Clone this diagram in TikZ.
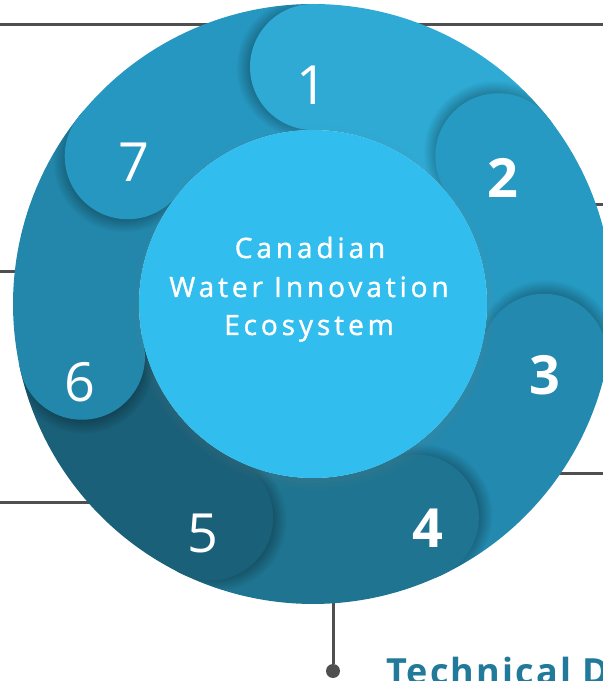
\documentclass[tikz,border=0pt]{standalone}
\usepackage{fontspec}
\setmainfont{Open Sans}
\newfontfamily\hubfont[LetterSpace=14,FakeBold=1.3]{Open Sans}
\newfontfamily\titlefont[LetterSpace=6]{Open Sans}
\usetikzlibrary{shadows,fadings}
\definecolor{segOne}{HTML}{2EAAD4}
\definecolor{segTwo}{HTML}{269AC3}
\definecolor{segThree}{HTML}{2389AE}
\definecolor{segFour}{HTML}{1F7591}
\definecolor{segFive}{HTML}{1A6078}
\definecolor{segSix}{HTML}{2287AB}
\definecolor{segSeven}{HTML}{2697C0}
\definecolor{hubBlue}{HTML}{31BEEE}
\definecolor{leadGray}{HTML}{4F4F4F}
\definecolor{titleTeal}{HTML}{217A99}
\begin{document}
\begin{tikzpicture}
[x=1pt,y=1pt,
  leadLine/.style={draw=leadGray,line width=3pt},
  headShadow/.style={fill=black,fill opacity=.28,path fading=circle with fuzzy edge 20 percent},
  numLabel/.style={text=white,inner sep=0pt},
  hubText/.style={text=white,inner sep=0pt,anchor=base,font=\hubfont\fontsize{28}{28}\selectfont}]
\useasboundingbox (0,0) rectangle (603,681);
\clip (0,0) rectangle (603,681);
\coordinate (hub) at (313,377);
%% lead lines behind the wheel
\coordinate (topLeft) at (0,656);
\coordinate (topRight) at (603,656);
\coordinate (leftUpper) at (0,409);
\coordinate (leftUpperEnd) at (200,409);
\coordinate (rightUpper) at (603,476);
\coordinate (rightUpperEnd) at (450,476);
\coordinate (rightLower) at (603,207);
\coordinate (rightLowerEnd) at (450,207);
\coordinate (leftLower) at (0,178);
\coordinate (leftLowerEnd) at (200,178);
\coordinate (rimBottom) at (333,150);
\node (dot) at (333,10) [circle,fill=leadGray,minimum size=14pt,inner sep=0pt] {};
\draw[leadLine] (topLeft) -- (topRight);
\draw[leadLine] (leftUpper) -- (leftUpperEnd);
\draw[leadLine] (rightUpper) -- (rightUpperEnd);
\draw[leadLine] (rightLower) -- (rightLowerEnd);
\draw[leadLine] (leftLower) -- (leftLowerEnd);
\draw[leadLine] (dot) -- (rimBottom);
%% ring segments and their round heads
\begin{scope}[shift={(hub)}]
\foreach \a/\col in {90/segOne, 38.57/segTwo, -12.86/segThree, -64.29/segFour,
  -115.71/segFive, -167.14/segSix, -218.57/segSeven}
{
  \fill[\col] (\a:300) arc[start angle=\a,delta angle=-53,radius=300]
    -- ({\a-53}:174) arc[start angle={\a-53},delta angle=53,radius=174] -- cycle;
}
\foreach \a/\col in {90/segOne, 38.57/segTwo, -12.86/segThree, -64.29/segFour,
  -115.71/segFive, -167.14/segSix, -218.57/segSeven}
{
  \begin{scope}
    \clip (0,0) circle (300);
    \clip (0,0) -- (\a:330) arc[start angle=\a,delta angle=80,radius=330] -- cycle;
    \fill[headShadow] ({\a+1.5}:237) circle (71);
  \end{scope}
  \fill[\col] (\a:237) circle (63);
}
\fill[hubBlue,circular drop shadow={shadow scale=1.05,shadow xshift=0pt,shadow yshift=-3pt,opacity=.3}] (0,0) circle (174);
\end{scope}
%% numbers
\foreach \n/\x/\y/\w in {1/312/596/m, 2/503/503/b, 3/545/306/b, 4/428/153/b,
  5/203/148/m, 6/80/299/m, 7/134/519/m}
{
  \node[numLabel,font=\fontseries{\w}\fontsize{54}{54}\selectfont] (num\n) at (\x,\y) {\n};
}
%% hub caption
\node[hubText] (hubLine1) at (310,423) {Canadian};
\node[hubText] (hubLine2) at (309,384) {Water Innovation};
\node[hubText] (hubLine3) at (309,346) {Ecosystem};
\node[anchor=base west,inner sep=0pt,text=titleTeal,font=\titlefont\bfseries\fontsize{36}{36}\selectfont] (title) at (386,-4) {Technical D};
\end{tikzpicture}
\end{document}
